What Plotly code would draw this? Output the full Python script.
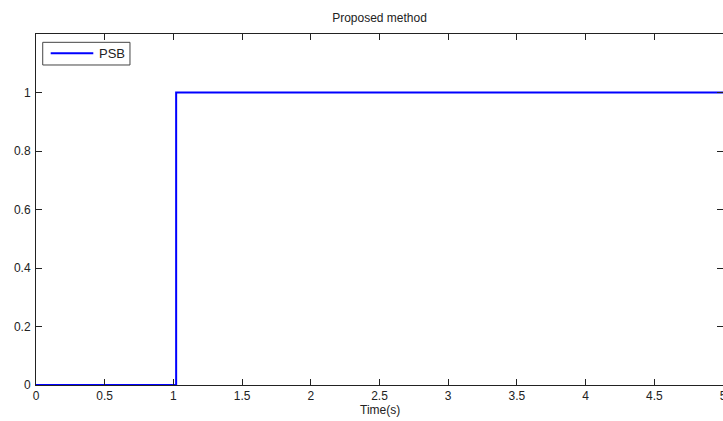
import plotly.graph_objects as go

time_s = [0.0, 1.02, 1.02, 5.0]
psb = [0, 0, 1, 1]
series_name = "PSB"
x_ticks = [0, 0.5, 1, 1.5, 2, 2.5, 3, 3.5, 4, 4.5, 5]
x_labels = ["0", "0.5", "1", "1.5", "2", "2.5", "3", "3.5", "4", "4.5", "5"]
y_ticks = [0, 0.2, 0.4, 0.6, 0.8, 1]
y_labels = ["0", "0.2", "0.4", "0.6", "0.8", "1"]

FONT = "Liberation Sans, Arial, Helvetica, sans-serif"
TXT = "#222222"
BLUE = "#0000ff"

fig = go.Figure()
fig.add_trace(go.Scatter(x=time_s, y=psb, mode="lines", name=series_name,
                         line=dict(color=BLUE, width=2), showlegend=False))

fig.update_layout(
    width=723, height=421,
    margin=dict(l=36, r=0, t=34, b=36, autoexpand=False),
    paper_bgcolor="white", plot_bgcolor="white",
    font=dict(family=FONT, size=12, color=TXT),
    title=dict(text="Proposed method", x=0.5, xref="paper", xanchor="center",
               y=1 - 18 / 421, yref="container", yanchor="middle",
               font=dict(family=FONT, size=12, color=TXT)),
)

axis_common = dict(showline=True, linecolor=TXT, linewidth=1, mirror="ticks",
                   ticks="inside", ticklen=6, tickwidth=1, tickcolor=TXT,
                   showgrid=False, zeroline=False, ticklabeloverflow="allow",
                   automargin=False)

fig.update_xaxes(range=[0, 5], tickvals=x_ticks, ticktext=x_labels, **axis_common)
fig.update_yaxes(range=[0, 1.2], tickvals=y_ticks, ticktext=y_labels,
                 ticklabelstandoff=2, **axis_common)

# x-axis title
fig.add_annotation(text="Time(s)", xref="paper", yref="paper", x=0.5, y=0,
                   yshift=-25, xanchor="center", yanchor="middle", showarrow=False,
                   font=dict(family=FONT, size=12, color=TXT))

# MATLAB-style legend box
fig.add_shape(type="rect", xref="paper", yref="paper",
              x0=0.0098, x1=0.1368, y0=0.9117, y1=0.9763,
              line=dict(color="#444444", width=1), fillcolor="white", layer="above")
fig.add_shape(type="line", xref="paper", yref="paper",
              x0=0.0214, x1=0.0834, y0=0.9455, y1=0.9455,
              line=dict(color=BLUE, width=2), layer="above")
fig.add_annotation(text=series_name, xref="paper", yref="paper", x=0.0895, y=0.9455,
                   xanchor="left", yanchor="middle", showarrow=False,
                   font=dict(family=FONT, size=13, color=TXT))

fig.write_html("out.html")
